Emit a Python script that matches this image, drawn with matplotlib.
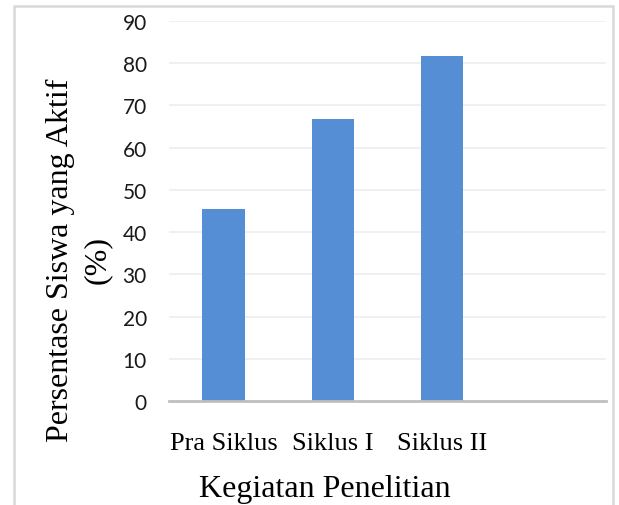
import matplotlib
matplotlib.use("Agg")
import matplotlib.pyplot as plt
from matplotlib.patches import Rectangle

# data
categories = ["Pra Siklus", "Siklus I", "Siklus II", ""]
values = [45.5, 66.7, 81.8, 0]
y_ticks = [0, 10, 20, 30, 40, 50, 60, 70, 80, 90]

bar_color = "#558ed5"
W, H = 619, 506

fig = plt.figure(figsize=(W / 100, H / 100), dpi=100)
ax = fig.add_axes([169 / W, 1 - 402 / H, 437 / W, 380 / H])

x = list(range(len(categories)))
ax.bar(x[:3], values[:3], width=0.39, color=bar_color, zorder=3)

ax.set_xlim(-0.5, 3.5)
ax.set_ylim(0, 90)
ax.set_yticks(y_ticks)
ax.set_yticklabels([str(v) for v in y_ticks], family="Lato", fontsize=15, color="#1a1a1a")
ax.set_xticks(x[:3])
ax.set_xticklabels(categories[:3], family="Liberation Serif", fontsize=19, color="#000000")
ax.tick_params(axis="y", length=0, pad=16)
ax.tick_params(axis="x", length=0, pad=22)

ax.grid(axis="y", color="#eeeeee", linewidth=1.2, zorder=0)
for s in ["top", "right", "left"]:
    ax.spines[s].set_visible(False)
ax.spines["bottom"].set_color("#bfbfbf")
ax.spines["bottom"].set_linewidth(2)
ax.spines["bottom"].set_zorder(4)

fig.text(325 / W, 1 - 490 / H, "Kegiatan Penelitian", family="Liberation Serif",
         fontsize=23, ha="center", va="center", color="#000000")
fig.text(79 / W, 1 - 260 / H, "Persentase Siswa yang Aktif\n(%)", family="Liberation Serif",
         fontsize=23, rotation=90, ha="center", va="center", multialignment="center",
         linespacing=1.35, color="#000000")

# outer chart frame
fig.patches.append(Rectangle((14 / W, -0.05), (613 - 14) / W, 1.05 - 7 / H,
                             transform=fig.transFigure, fill=False,
                             edgecolor="#d9d9d9", linewidth=1.8))

fig.savefig("out.png", dpi=100)
